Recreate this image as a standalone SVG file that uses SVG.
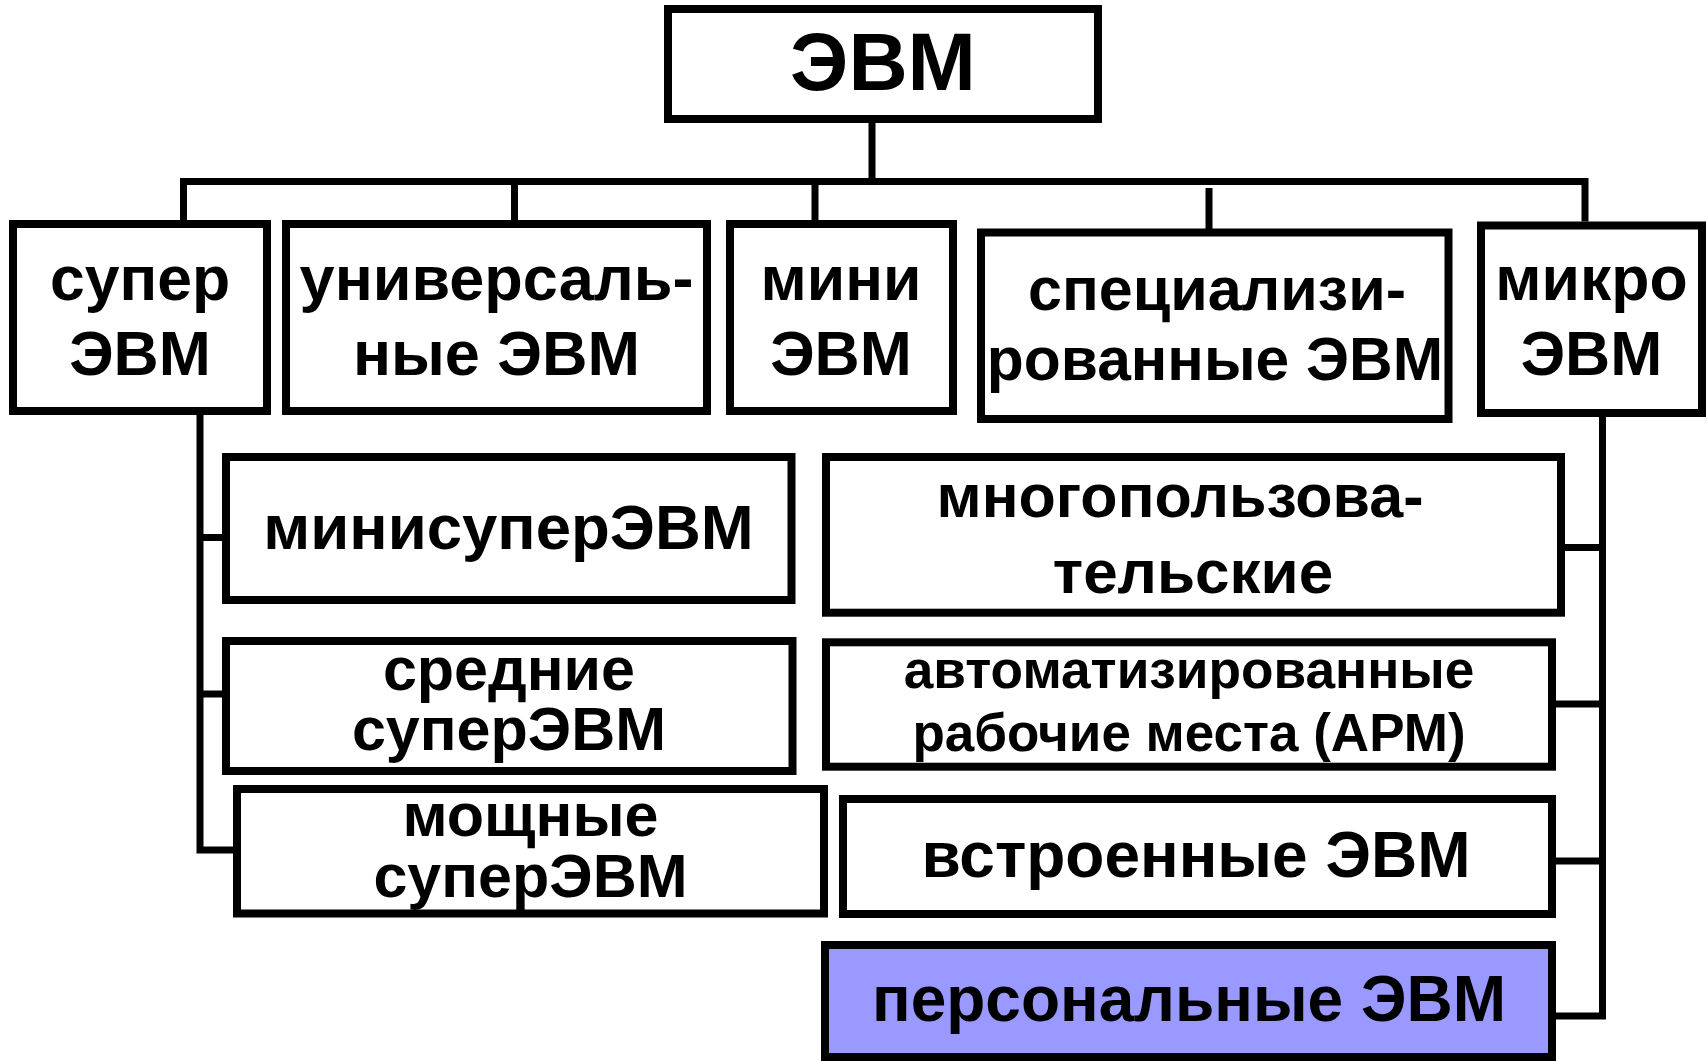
<svg xmlns="http://www.w3.org/2000/svg" width="1707" height="1061" viewBox="0 0 1707 1061">
  <style>
    .box { fill: #ffffff; stroke: #000000; stroke-width: 8; }
    .pc { fill: #9999ff; }
    .lbl { font-family: "Liberation Sans", Arial, Helvetica, sans-serif; font-weight: bold; fill: #000000; text-anchor: middle; }
    .wire { fill: none; stroke: #000000; stroke-width: 7; stroke-linejoin: miter; }
  </style>
  <rect width="1707" height="1061" fill="#ffffff"/>

  <!-- connectors -->
  <g id="connectors">
    <path class="wire" d="M872,123 V181.5"/>
    <path class="wire" d="M183.5,220 V181.5 H1585 V221.5"/>
    <path class="wire" d="M514.5,181.5 V220"/>
    <path class="wire" d="M815,181.5 V220"/>
    <path class="wire" d="M1209,188 V229"/>
    <!-- super computers branch -->
    <path class="wire" d="M200,415 V850 H233"/>
    <path class="wire" d="M200,537.5 H222"/>
    <path class="wire" d="M200,694 H222"/>
    <!-- micro computers branch -->
    <path class="wire" d="M1602.5,417 V1016 H1556"/>
    <path class="wire" d="M1553,547.5 H1602.5"/>
    <path class="wire" d="M1556,704 H1602.5"/>
    <path class="wire" d="M1556,861 H1602.5"/>
  </g>

  <g id="evm">
    <rect class="box" x="668" y="9" width="430" height="110"/>
    <text class="lbl" x="883" y="90" font-size="82">ЭВМ</text>
  </g>

  <g id="super">
    <rect class="box" x="13" y="224" width="254" height="187"/>
    <text class="lbl" x="140" y="300" font-size="62.5">супер</text>
    <text class="lbl" x="140" y="375" font-size="62.5">ЭВМ</text>
  </g>

  <g id="universal">
    <rect class="box" x="286" y="224" width="421" height="187"/>
    <text class="lbl" x="496.5" y="300" font-size="63">универсаль-</text>
    <text class="lbl" x="496.5" y="375" font-size="63">ные ЭВМ</text>
  </g>

  <g id="mini">
    <rect class="box" x="730" y="224" width="223" height="187"/>
    <text class="lbl" x="841" y="300" font-size="62.5">мини</text>
    <text class="lbl" x="841" y="375" font-size="62.5">ЭВМ</text>
  </g>

  <g id="specialized">
    <rect class="box" x="981" y="232.5" width="467.5" height="186.5"/>
    <text class="lbl" x="1217" y="310" font-size="61">специализи-</text>
    <text class="lbl" x="1215" y="380" font-size="60.5">рованные ЭВМ</text>
  </g>

  <g id="micro">
    <rect class="box" x="1481" y="225.5" width="221" height="187.5"/>
    <text class="lbl" x="1591.5" y="300" font-size="62.5">микро</text>
    <text class="lbl" x="1591.5" y="375" font-size="62.5">ЭВМ</text>
  </g>

  <g id="minisuper">
    <rect class="box" x="226" y="457" width="565.5" height="143"/>
    <text class="lbl" x="508.5" y="549" font-size="63.5">минисуперЭВМ</text>
  </g>

  <g id="medium-super">
    <rect class="box" x="226" y="641" width="566.5" height="130"/>
    <text class="lbl" x="509" y="690" font-size="61">средние</text>
    <text class="lbl" x="509" y="750" font-size="61">суперЭВМ</text>
  </g>

  <g id="powerful-super">
    <rect class="box" x="237" y="789" width="587" height="124.5"/>
    <text class="lbl" x="530.5" y="836" font-size="61">мощные</text>
    <text class="lbl" x="530.5" y="897" font-size="61">суперЭВМ</text>
  </g>

  <g id="multiuser">
    <rect class="box" x="826" y="457" width="735" height="155.7"/>
    <text class="lbl" x="1180" y="517" font-size="61">многопользова-</text>
    <text class="lbl" x="1193" y="593" font-size="62">тельские</text>
  </g>

  <g id="workstations">
    <rect class="box" x="826" y="642.3" width="726" height="124.4"/>
    <text class="lbl" x="1189" y="688" font-size="53.2">автоматизированные</text>
    <text class="lbl" x="1189" y="751" font-size="53">рабочие места (АРМ)</text>
  </g>

  <g id="embedded">
    <rect class="box" x="843" y="799" width="709" height="115"/>
    <text class="lbl" x="1196" y="877" font-size="64">встроенные ЭВМ</text>
  </g>

  <g id="personal">
    <rect class="box pc" x="825" y="945" width="727" height="112"/>
    <text class="lbl" x="1189" y="1021" font-size="64">персональные ЭВМ</text>
  </g>
</svg>
